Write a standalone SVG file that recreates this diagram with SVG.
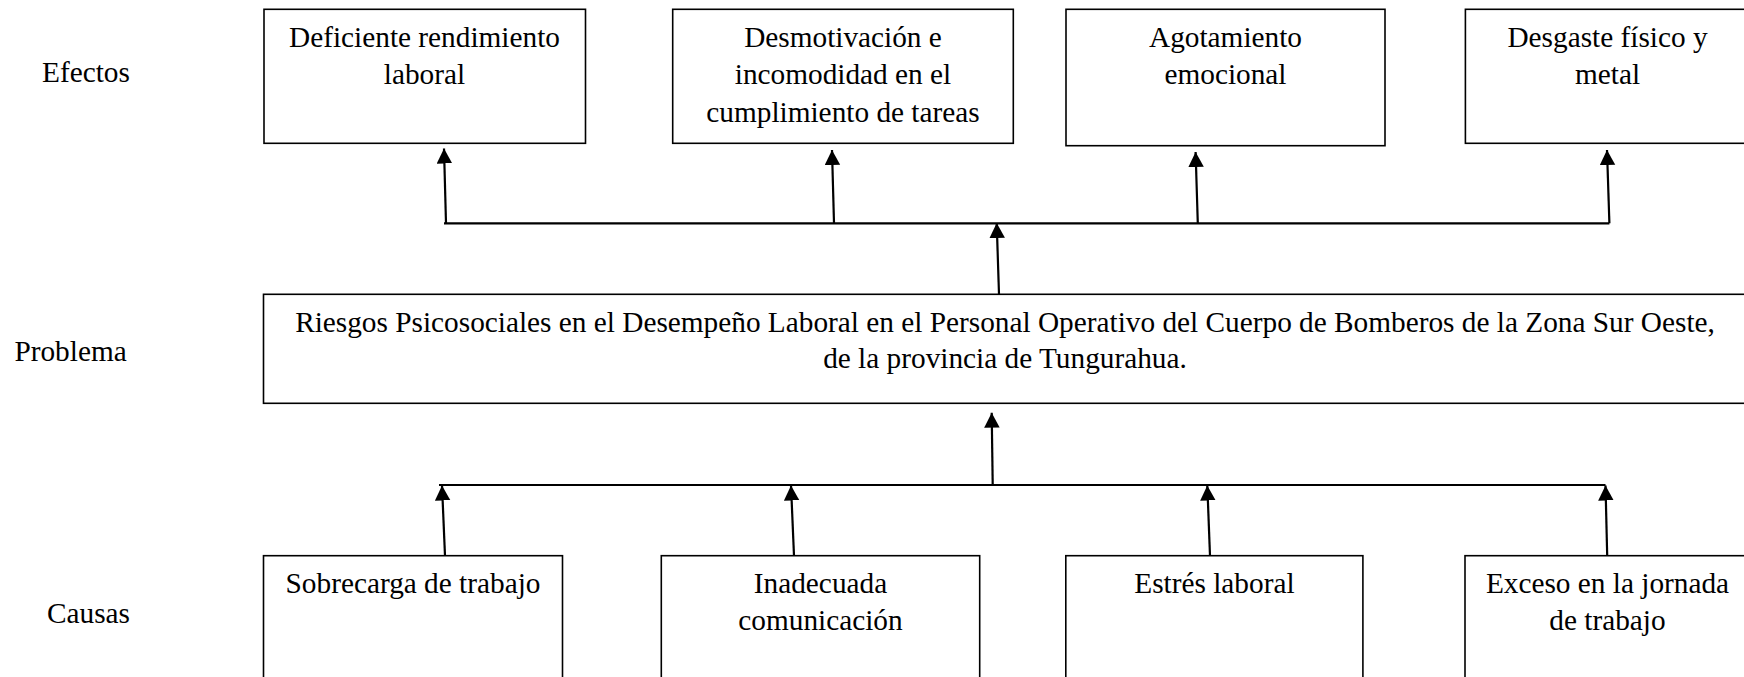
<svg xmlns="http://www.w3.org/2000/svg" width="1744" height="677" viewBox="0 0 1744 677">
<style>
.box{fill:#fff;stroke:#000;stroke-width:1.6}
.t{font-family:"Liberation Serif","Times New Roman",serif;font-size:29.3px;fill:#000}
.c{text-anchor:middle}
.ln{stroke:#000;stroke-width:2.2;fill:none}
.ar{stroke:#000;stroke-width:2.2;fill:none;marker-end:url(#ah)}
</style>
<defs>
<marker id="ah" markerUnits="userSpaceOnUse" markerWidth="16" markerHeight="16" refX="15" refY="7.75" orient="auto" viewBox="0 0 16 16">
<path d="M0,0 L15,7.75 L0,15.5 Z" fill="#000"/>
</marker>
</defs>
<rect width="1744" height="677" fill="#fff"/>

<g id="label-efectos"><text class="t" x="42" y="81.7">Efectos</text></g>
<g id="label-problema"><text class="t" x="14.4" y="360.7">Problema</text></g>
<g id="label-causas"><text class="t" x="47" y="623.3">Causas</text></g>

<g id="efecto-1">
<rect class="box" x="264" y="9.3" width="321.5" height="134"/>
<text class="t c" x="424.5" y="46.7">Deficiente rendimiento</text>
<text class="t c" x="424.5" y="84">laboral</text>
</g>
<g id="efecto-2">
<rect class="box" x="672.7" y="9.3" width="340.6" height="134"/>
<text class="t c" x="843" y="46.7">Desmotivación e</text>
<text class="t c" x="843" y="84">incomodidad en el</text>
<text class="t c" x="843" y="121.7">cumplimiento de tareas</text>
</g>
<g id="efecto-3">
<rect class="box" x="1066" y="9.3" width="319" height="136.4"/>
<text class="t c" x="1225.5" y="46.7">Agotamiento</text>
<text class="t c" x="1225.5" y="84">emocional</text>
</g>
<g id="efecto-4">
<rect class="box" x="1465.4" y="9.3" width="284" height="134"/>
<text class="t c" x="1607.5" y="46.7">Desgaste físico y</text>
<text class="t c" x="1607.5" y="84">metal</text>
</g>

<g id="problema">
<rect class="box" x="263.5" y="294.3" width="1483" height="109" stroke-width="2"/>
<text class="t c" x="1005" y="331.7">Riesgos Psicosociales en el Desempeño Laboral en el Personal Operativo del Cuerpo de Bomberos de la Zona Sur Oeste,</text>
<text class="t c" x="1005" y="368.3">de la provincia de Tungurahua.</text>
</g>

<g id="causa-1">
<rect class="box" x="263.5" y="555.7" width="299" height="140"/>
<text class="t c" x="413" y="593.3">Sobrecarga de trabajo</text>
</g>
<g id="causa-2">
<rect class="box" x="661.3" y="555.7" width="318.4" height="140"/>
<text class="t c" x="820.5" y="593.3">Inadecuada</text>
<text class="t c" x="820.5" y="630">comunicación</text>
</g>
<g id="causa-3">
<rect class="box" x="1065.8" y="555.7" width="297.1" height="140"/>
<text class="t c" x="1214.4" y="593.3">Estrés laboral</text>
</g>
<g id="causa-4">
<rect class="box" x="1465" y="555.7" width="285" height="140"/>
<text class="t c" x="1607.5" y="593.3">Exceso en la jornada</text>
<text class="t c" x="1607.5" y="630">de trabajo</text>
</g>

<g id="connectors">
<line class="ln" x1="444" y1="223.3" x2="1609.4" y2="223.3"/>
<line class="ar" x1="446" y1="223.3" x2="444" y2="148.5"/>
<line class="ar" x1="834" y1="223.3" x2="832" y2="150"/>
<line class="ar" x1="1197.8" y1="223.3" x2="1195.6" y2="152"/>
<line class="ar" x1="1609.4" y1="223.3" x2="1607" y2="150"/>
<line class="ar" x1="999" y1="294.3" x2="996.7" y2="223"/>
<line class="ar" x1="992.7" y1="484.5" x2="991.7" y2="412.7"/>
<line class="ln" x1="439" y1="485" x2="1605.5" y2="485"/>
<line class="ar" x1="445" y1="555.7" x2="442" y2="485.5"/>
<line class="ar" x1="794" y1="555.7" x2="791" y2="485.5"/>
<line class="ar" x1="1210" y1="555.7" x2="1207.3" y2="485.5"/>
<line class="ar" x1="1607.2" y1="555.7" x2="1605.5" y2="485.5"/>
</g>
</svg>
